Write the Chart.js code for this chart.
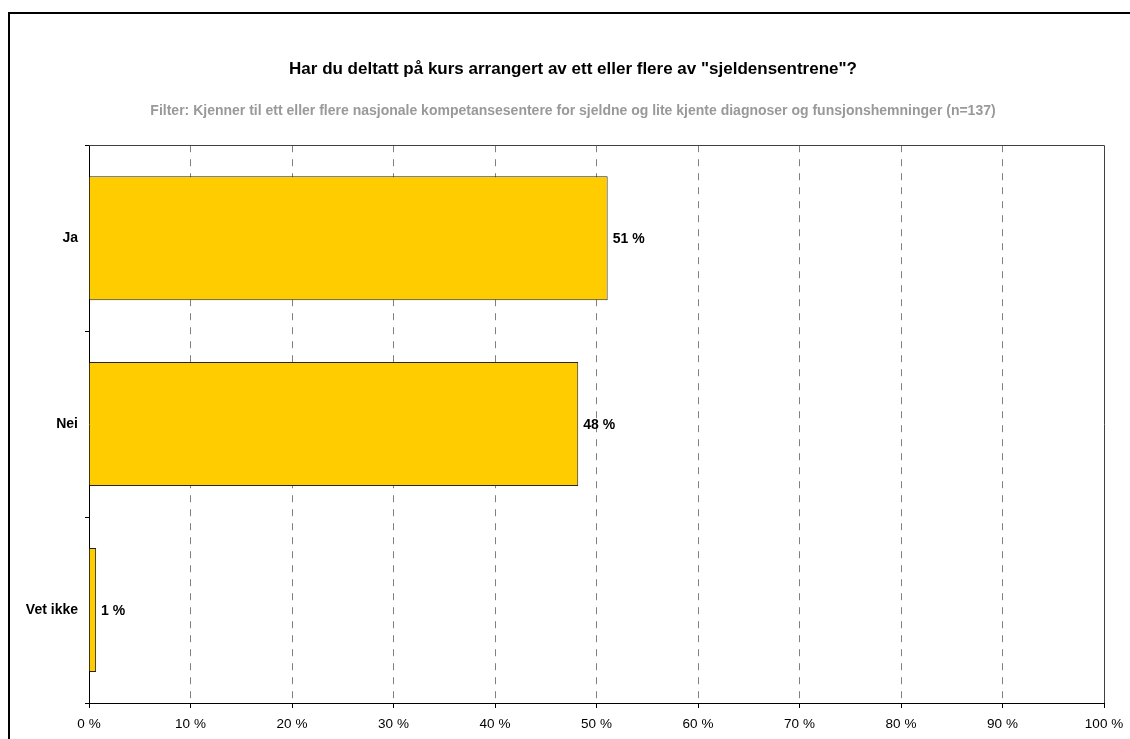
<!DOCTYPE html>
<html>
<head>
<meta charset="utf-8">
<script src="https://cdn.jsdelivr.net/npm/chart.js@4/dist/chart.umd.min.js"></script>
<style>
  html, body { margin: 0; padding: 0; background: #ffffff; overflow: hidden; width: 1130px; height: 739px; }
  #frame { position: absolute; left: 8px; top: 12px; width: 1200px; height: 800px; border-top: 2px solid #000; border-left: 2px solid #000; box-sizing: border-box; }
  #wrap { position: absolute; left: 8px; top: 12px; width: 1130px; height: 739px; }
</style>
</head>
<body>
<div id="frame"></div>
<div id="wrap"><canvas id="chart" width="1130" height="739"></canvas></div>
<script>
// Survey answers (share of respondents, %)
const categories = ['Ja', 'Nei', 'Vet ikke'];
const shares = [51.1, 48.2, 0.7];
const xTicks = [0, 10, 20, 30, 40, 50, 60, 70, 80, 90, 100];
const titleText = 'Har du deltatt på kurs arrangert av ett eller flere av "sjeldensentrene"?';
const subtitleText = 'Filter: Kjenner til ett eller flere nasjonale kompetansesentere for sjeldne og lite kjente diagnoser og funsjonshemninger (n=137)';

const FONT = '"Liberation Sans", Arial, sans-serif';
const pct = v => Math.round(v) + ' %';

// Thin frame on top and right of the plot area
const plotFrame = {
  id: 'plotFrame',
  afterDraw(chart) {
    const { ctx, chartArea: a } = chart;
    ctx.save();
    ctx.strokeStyle = '#404040';
    ctx.lineWidth = 1;
    ctx.beginPath();
    ctx.moveTo(a.left, Math.round(a.top) + 0.5);
    ctx.lineTo(Math.round(a.right) + 0.5, Math.round(a.top) + 0.5);
    ctx.lineTo(Math.round(a.right) + 0.5, a.bottom);
    ctx.stroke();
    ctx.restore();
  }
};

// Value labels to the right of each bar
const valueLabels = {
  id: 'valueLabels',
  afterDatasetsDraw(chart) {
    const { ctx } = chart;
    const meta = chart.getDatasetMeta(0);
    ctx.save();
    ctx.font = 'bold 14px ' + FONT;
    ctx.fillStyle = '#000';
    ctx.textAlign = 'left';
    ctx.textBaseline = 'middle';
    meta.data.forEach((bar, i) => {
      ctx.fillText(pct(shares[i]), bar.x + 5, bar.y + 1);
    });
    ctx.restore();
  }
};

new Chart(document.getElementById('chart'), {
  type: 'bar',
  data: {
    labels: categories,
    datasets: [{
      data: shares,
      backgroundColor: '#FFCC00',
      borderColor: '#222222',
      borderWidth: 1,
      borderSkipped: 'left',
      categoryPercentage: 1,
      barPercentage: 0.667
    }]
  },
  options: {
    indexAxis: 'y',
    responsive: false,
    animation: false,
    layout: { padding: 0 },
    plugins: {
      legend: { display: false },
      tooltip: { enabled: false },
      title: {
        display: true,
        text: titleText,
        color: '#000',
        font: { family: FONT, size: 17, weight: 'bold' },
        padding: { top: 47, bottom: 0 }
      },
      subtitle: {
        display: true,
        text: subtitleText,
        color: '#999999',
        font: { family: FONT, size: 14, weight: 'bold' },
        padding: { top: 23, bottom: 26 }
      }
    },
    scales: {
      x: {
        min: 0,
        max: 100,
        afterBuildTicks(scale) { scale.ticks = xTicks.map(v => ({ value: v })); },
        afterFit(scale) { scale.height = 48; scale.paddingRight = 34; },
        ticks: {
          color: '#000',
          font: { family: FONT, size: 13.5 },
          padding: 8,
          maxRotation: 0,
          callback: v => v + ' %'
        },
        grid: {
          color: ctx => (ctx.tick && (ctx.tick.value === 0 || ctx.tick.value === 100)) ? 'rgba(0,0,0,0)' : '#808080',
          tickColor: '#000',
          tickLength: 5,
          lineWidth: 1
        },
        border: { display: true, color: '#000', width: 1, dash: [7, 7] }
      },
      y: {
        afterFit(scale) { scale.width = 81; },
        ticks: {
          color: '#000',
          font: { family: FONT, size: 14, weight: 'bold' },
          padding: 7
        },
        grid: {
          offset: true,
          drawOnChartArea: false,
          tickColor: '#000',
          tickLength: 4
        },
        border: { display: true, color: '#000', width: 1 }
      }
    }
  },
  plugins: [plotFrame, valueLabels]
});
</script>
</body>
</html>
